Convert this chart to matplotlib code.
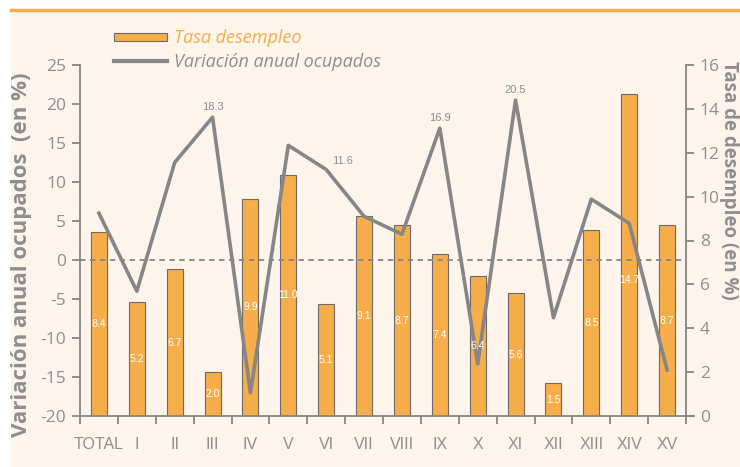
import numpy as np
import matplotlib.pyplot as plt
from matplotlib.patches import Rectangle, Patch
from matplotlib.lines import Line2D

# Datos
categorias = ["TOTAL", "I", "II", "III", "IV", "V", "VI", "VII", "VIII",
              "IX", "X", "XI", "XII", "XIII", "XIV", "XV"]
tasa_desempleo = [8.4, 5.2, 6.7, 2.0, 9.9, 11.0, 5.1, 9.1, 8.7,
                  7.4, 6.4, 5.6, 1.5, 8.5, 14.7, 8.7]
variacion_ocupados = [6.0, -4.0, 12.5, 18.3, -17.0, 14.7, 11.6, 5.6, 3.3,
                      16.9, -13.3, 20.5, -7.4, 7.8, 4.7, -14.1]
etiquetas_linea = [3, 6, 9, 11]  # puntos de la linea con valor rotulado

# Colores
naranja = "#f6ad4a"
gris = "#868686"
gris_texto = "#8e8e8e"
crema = "#fdf5ec"

plt.rcParams['font.family'] = ['Open Sans', 'DejaVu Sans']
plt.rcParams['axes.unicode_minus'] = False
angosta = ['Liberation Sans', 'DejaVu Sans']

fig = plt.figure(figsize=(7.4, 4.67), dpi=100, facecolor="white")
W, H = 740, 467

# Fondo crema y linea naranja superior
fig.patches.append(Rectangle((11 / W, 0), 1, 1 - 12 / H, transform=fig.transFigure,
                             facecolor=crema, edgecolor="none", zorder=-5))
fig.add_artist(Line2D([11 / W, 1], [1 - 10 / H, 1 - 10 / H], transform=fig.transFigure,
                      color=naranja, lw=2.5, zorder=-4))

left, right, bottom, top = 80 / W, 686 / W, 1 - 416 / H, 1 - 65 / H
ax = fig.add_axes([left, bottom, right - left, top - bottom])
ax2 = ax.twinx()
ax.set_zorder(ax2.get_zorder() + 1)
ax.patch.set_visible(False)
ax2.patch.set_visible(False)

x = np.arange(len(categorias))

# Barras (eje derecho)
ax2.bar(x, tasa_desempleo, width=0.42, color=naranja, edgecolor="#6f6a66", linewidth=0.8)
ax2.set_ylim(0, 16)
ax2.set_yticks(np.arange(0, 17, 2))

# Linea (eje izquierdo)
ax.axhline(0, color=gris, lw=1.3, ls=(0, (3, 2.5)))
ax.plot(x, variacion_ocupados, color=gris, lw=2.6)
for i in etiquetas_linea:
    if i == 6:
        off, va = (12, 6), "center"
    else:
        off, va = (0, 4), "bottom"
    ax.annotate(f"{variacion_ocupados[i]:.1f}", (x[i], variacion_ocupados[i]),
                xytext=off, textcoords="offset points", ha="center", va=va,
                color=gris_texto, fontsize=8, family=angosta)
ax.set_ylim(-20, 25)
ax.set_yticks(np.arange(-20, 26, 5))
ax.set_xlim(-0.5, len(categorias) - 0.5)

# Valores de las barras (encima de la linea)
for xi, v in zip(x, tasa_desempleo):
    ax.text(xi, min(v / 2, 6.2), f"{v:.1f}", ha="center", va="center", color="white",
            fontsize=7.5, family=angosta, transform=ax2.transData, zorder=5)

# Ejes
for a in (ax, ax2):
    for s in a.spines.values():
        s.set_visible(False)
ax.spines["left"].set_visible(True)
ax.spines["bottom"].set_visible(True)
ax2.spines["right"].set_visible(True)
for s in (ax.spines["left"], ax.spines["bottom"], ax2.spines["right"]):
    s.set_color(gris)
    s.set_linewidth(1.3)
ax.spines["bottom"].set_bounds(-0.5, len(categorias) - 0.5 + 0.21)

ax.set_xticks(x)
ax.set_xticklabels(categorias, family=angosta)
ax.set_xticks(np.arange(-0.5, len(categorias)), minor=True)
ax.tick_params(axis="x", which="major", length=0, pad=15, labelsize=11.5, labelcolor=gris_texto)
ax.tick_params(axis="x", which="minor", length=6, width=1.3, color=gris)
ax.tick_params(axis="y", length=6, width=1.3, color=gris, labelsize=12.5,
               labelcolor=gris_texto, pad=4)
ax2.tick_params(axis="y", length=6, width=1.3, color=gris, labelsize=12.5,
                labelcolor=gris_texto, pad=4)

# Titulos de ejes
fig.text(22 / W, 1 - 255 / H, "Variación anual ocupados  (en %)", rotation=90,
         ha="center", va="center", fontsize=16, fontweight="bold", color=gris_texto)
fig.text(729 / W, 1 - 180 / H, "Tasa de desempleo (en %)", rotation=-90,
         ha="center", va="center", fontsize=13.5, fontweight="bold", color=gris_texto)

# Leyenda
handles = [Patch(facecolor=naranja, edgecolor="#6f6a66", linewidth=0.8),
           Line2D([0], [0], color=gris, lw=3)]
leg = fig.legend(handles, ["Tasa desempleo", "Variación anual ocupados"],
                 loc="upper left", bbox_to_anchor=(98 / W, 1 - 13 / H), frameon=False,
                 handlelength=2.9, handleheight=0.35, handletextpad=0.4,
                 labelspacing=0.3, prop={"size": 13, "style": "italic"},
                 labelcolor=[naranja, gris_texto])

fig.savefig("out.png", dpi=100, facecolor=fig.get_facecolor())
